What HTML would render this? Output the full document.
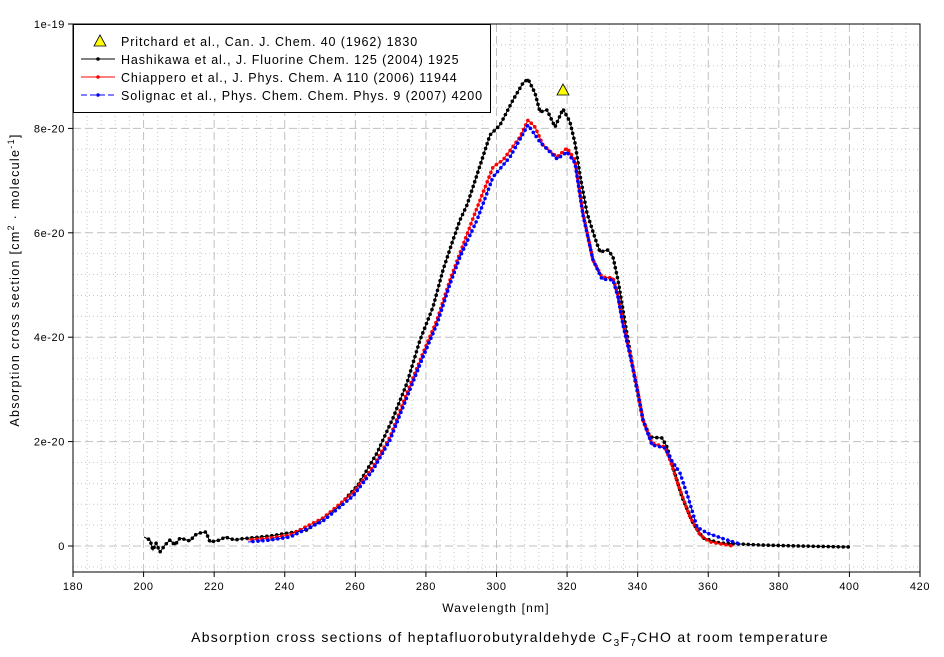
<!DOCTYPE html>
<html><head><meta charset="utf-8"><style>
body{margin:0;background:#fff;}
svg{display:block;font-family:"Liberation Sans",Arial,sans-serif;}
</style></head><body>
<svg id="s" width="944" height="657" xmlns="http://www.w3.org/2000/svg">
<g id="grid"></g>
<rect x="73" y="24" width="847" height="548" fill="none" stroke="#000" stroke-width="1"/>
<g id="ticks" font-size="11" letter-spacing="0.6"></g>
<g id="data"></g>
<polygon points="563,84 557,95 569,95" fill="#ffff00" stroke="#000" stroke-width="0.8"/>
<rect x="73.5" y="24.5" width="417" height="88" fill="#fff" stroke="#000"/>
<polygon points="100,35 94,46 106,46" fill="#ffff00" stroke="#000" stroke-width="0.8"/>
<line x1="81" y1="59" x2="115" y2="59" stroke="#000"/><circle cx="98" cy="59" r="1.8"/>
<line x1="81" y1="77" x2="115" y2="77" stroke="#f00"/><circle cx="98" cy="77" r="1.8" fill="#f00"/>
<line x1="81" y1="95" x2="115" y2="95" stroke="#00f" stroke-dasharray="6,3"/><circle cx="98" cy="95" r="1.8" fill="#00f"/>
<g font-size="12.5" fill="#000" letter-spacing="0.9">
<text x="121" y="46">Pritchard et al., Can. J. Chem. 40 (1962) 1830</text>
<text x="121" y="64">Hashikawa et al., J. Fluorine Chem. 125 (2004) 1925</text>
<text x="121" y="82">Chiappero et al., J. Phys. Chem. A 110 (2006) 11944</text>
<text x="121" y="100">Solignac et al., Phys. Chem. Chem. Phys. 9 (2007) 4200</text>
</g>
<text x="496" y="612" font-size="12" text-anchor="middle" letter-spacing="1.2">Wavelength [nm]</text>
<text x="510" y="642" font-size="14" text-anchor="middle" letter-spacing="1.3">Absorption cross sections of heptafluorobutyraldehyde C<tspan font-size="10" dy="4">3</tspan><tspan dy="-4">F</tspan><tspan font-size="10" dy="4">7</tspan><tspan dy="-4">CHO at room temperature</tspan></text>
<text transform="translate(19,280) rotate(-90)" font-size="12.5" text-anchor="middle" letter-spacing="1.3">Absorption cross section [cm<tspan font-size="9" dy="-5">2</tspan><tspan dy="5"> · molecule</tspan><tspan font-size="9" dy="-5">-1</tspan><tspan dy="5">]</tspan></text>
</svg>
<script>
var NS="http://www.w3.org/2000/svg";
function el(p,t,a,txt){var e=document.createElementNS(NS,t);for(var k in a)e.setAttribute(k,a[k]);if(txt!=null)e.textContent=txt;p.appendChild(e);return e;}
var g=document.getElementById('grid'),tk=document.getElementById('ticks'),d=document.getElementById('data');
function X(nm){return 73+(nm-180)*847/240;}
function Y(v){return 546-v*104.4/2;}
for(var nm=180;nm<=420;nm+=4){var x=X(nm);if(nm%20==0)el(g,'line',{x1:x,y1:24,x2:x,y2:572,stroke:'#c0c0c0','stroke-dasharray':'8,4'});else el(g,'line',{x1:x,y1:24,x2:x,y2:572,stroke:'#c8c8c8','stroke-dasharray':'1,3'});}
for(var i=-1;i<=25;i++){var v=i*0.4,y=Y(v);if(y<24||y>572)continue;if(i%5==0)el(g,'line',{x1:73,y1:y,x2:920,y2:y,stroke:'#c0c0c0','stroke-dasharray':'8,4'});else el(g,'line',{x1:73,y1:y,x2:920,y2:y,stroke:'#c8c8c8','stroke-dasharray':'1,3'});}
for(var nm=180;nm<=420;nm+=20){var x=X(nm);el(tk,'line',{x1:x,y1:572,x2:x,y2:577,stroke:'#000'});el(tk,'text',{x:x,y:590,'text-anchor':'middle'},nm);}
var yl=[['0',0],['2e-20',2],['4e-20',4],['6e-20',6],['8e-20',8],['1e-19',10]];
yl.forEach(function(a){var y=Y(a[1]);el(tk,'line',{x1:68,y1:y,x2:73,y2:y,stroke:'#000'});el(tk,'text',{x:65,y:y+4,'text-anchor':'end'},a[0]);});
var black=[[144,537],[150,540],[153,550],[156,543],[160,552],[165,545],[170,540],[175,545],[180,538],[190,541],[195,535],[200,533],[206,532],[210,542],[220,540],[225,537],[235,540],[240,539],[270,536],[307,530],[337,508],[358,485],[377,453],[393,418],[407,383],[420,340],[433,307],[443,270],[453,240],[460,220],[467,205],[473,187],[490,135],[500,125],[513,100],[523,83],[528,79],[535,93],[540,112],[547,110],[555,127],[563,109],[570,122],[575,143],[580,175],[587,213],[595,238],[600,252],[608,250],[613,257],[618,280],[623,310],[628,340],[635,380],[643,420],[650,437],[662,438],[667,447],[673,467],[682,497],[693,523],[703,538],[720,543],[760,545],[800,546],[849,547]];
var red=[[247,540],[270,538],[290,535],[323,518],[353,493],[373,467],[390,437],[407,393],[423,353],[437,320],[450,280],[460,253],[475,213],[493,167],[503,160],[520,137],[528,120],[535,127],[543,145],[557,157],[567,148],[575,160],[583,213],[593,260],[602,277],[613,278],[618,295],[623,323],[630,353],[637,387],[643,420],[652,443],[665,447],[670,460],[680,490],[690,517],[700,535],[710,542],[733,546]];
var blue=[[248,542],[270,540],[290,537],[323,521],[353,496],[373,470],[390,440],[407,397],[423,357],[437,324],[450,284],[460,257],[477,220],[493,177],[510,157],[528,125],[540,142],[557,159],[567,152],[575,163],[583,215],[593,260],[602,279],[613,280],[618,297],[623,325],[630,355],[637,388],[643,420],[652,445],[665,448],[670,458],[680,473],[688,497],[697,527],[707,533],[727,540],[740,544]];
function draw(pts,col,dash){var s=pts.map(function(p){return p.join(',')}).join(' ');var a={points:s,fill:'none',stroke:col,'stroke-width':1};if(dash)a['stroke-dasharray']=dash;el(d,'polyline',a);
var acc=0;for(var i=1;i<pts.length;i++){var x0=pts[i-1][0],y0=pts[i-1][1],x1=pts[i][0],y1=pts[i][1];var L=Math.hypot(x1-x0,y1-y0);var t=0;while(acc+L-t>=5){t+=5-acc;acc=0;var f=t/L;el(d,'circle',{cx:x0+(x1-x0)*f,cy:y0+(y1-y0)*f,r:1.8,fill:col});}acc+=L-t;}}
draw(black,'#000');draw(red,'#f00');draw(blue,'#00f','6,3');
</script>
</body></html>
